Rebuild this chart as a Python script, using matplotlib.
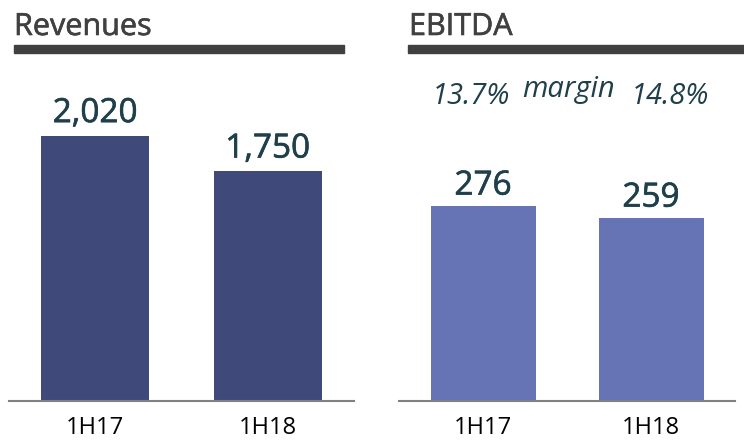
import matplotlib.pyplot as plt
from matplotlib.patches import Rectangle
import matplotlib.patheffects as pe

# data
periods = ['1H17', '1H18']
revenues = [2020, 1750]
revenue_labels = ['2,020', '1,750']
ebitda = [276, 259]
ebitda_labels = ['276', '259']
margins = ['13.7%', '14.8%']

W, H = 744, 441
fig = plt.figure(figsize=(W / 100, H / 100), dpi=100)
fig.patch.set_facecolor('white')
plt.rcParams['font.family'] = ['Open Sans', 'DejaVu Sans']

def thick(c):
    return [pe.withStroke(linewidth=0.45, foreground=c)]

def px_axes(x0, x1, ytop, ybot):
    return fig.add_axes([x0 / W, (H - ybot) / H, (x1 - x0) / W, (ybot - ytop) / H])

def panel(ax, vals, labels, color, ymax, off):
    ax.bar(range(len(vals)), vals, width=0.625, color=color)
    ax.set_xlim(-0.5, 1.5)
    ax.set_ylim(0, ymax)
    for s in ['top', 'right', 'left']:
        ax.spines[s].set_visible(False)
    ax.spines['bottom'].set_color('#808080')
    ax.spines['bottom'].set_linewidth(1.5)
    ax.set_yticks([])
    ax.set_xticks(range(len(vals)))
    ax.set_xticklabels(periods, fontsize=17, color='black')
    ax.tick_params(axis='x', length=0, pad=11)
    for i, (v, t) in enumerate(zip(vals, labels)):
        ax.annotate(t, (i, v), xytext=(0, off), textcoords='offset points',
                    ha='center', va='baseline', fontsize=24,
                    color='#1f3f4a', path_effects=thick('#1f3f4a'))

ax1 = px_axes(9, 354, 60, 401)
panel(ax1, revenues, revenue_labels, '#3f4a7a', 2020 * 341 / 265, 10)

ax2 = px_axes(399, 735, 60, 401)
panel(ax2, ebitda, ebitda_labels, '#6673b5', 276 * 341 / 195.3, 8)

# titles and underlines
fig.text(14 / W, 1 - 35 / H, 'Revenues', fontsize=22,
         color='#404040', ha='left', va='baseline', path_effects=thick('#404040'))
fig.text(409 / W, 1 - 35 / H, 'EBITDA', fontsize=22,
         color='#404040', ha='left', va='baseline', path_effects=thick('#404040'))
fig.patches.append(Rectangle((14 / W, 1 - 53 / H), 330 / W, 8 / H,
                             transform=fig.transFigure, color='#404040'))
fig.patches.append(Rectangle((408 / W, 1 - 53 / H), 336 / W, 8 / H,
                             transform=fig.transFigure, color='#404040'))

# margin texts
fig.text(471 / W, 1 - 104 / H, margins[0], fontsize=21, style='italic',
         color='#1f3f4a', ha='center', va='baseline')
fig.text(568 / W, 1 - 97 / H, 'margin', fontsize=21, style='italic',
         color='#1f3f4a', ha='center', va='baseline')
fig.text(670 / W, 1 - 104 / H, margins[1], fontsize=21, style='italic',
         color='#1f3f4a', ha='center', va='baseline')

fig.savefig('out.png', dpi=100)
